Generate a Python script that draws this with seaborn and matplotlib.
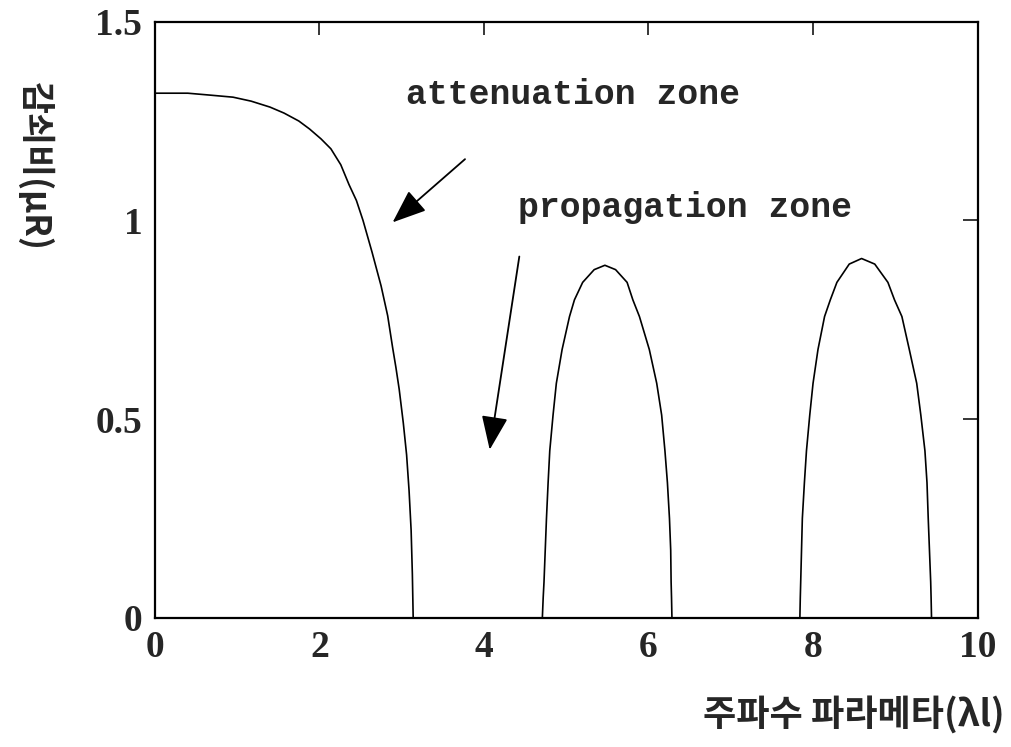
import numpy as np
import pandas as pd
import matplotlib
matplotlib.use("Agg")
import matplotlib.pyplot as plt
import seaborn as sns

# values
lobe1_x = [0, 0.4, 0.68, 0.95, 1.17, 1.40, 1.57, 1.75, 1.88, 2.02, 2.14, 2.26, 2.36, 2.45,
           2.53, 2.64, 2.75, 2.83, 2.89, 2.93, 2.97, 3.02, 3.06, 3.09, 3.115, 3.13, 3.14]
lobe1_y = [1.32, 1.32, 1.315, 1.31, 1.30, 1.285, 1.27, 1.25, 1.23, 1.205, 1.18, 1.14, 1.09, 1.05,
           1.00, 0.92, 0.835, 0.76, 0.68, 0.63, 0.575, 0.49, 0.41, 0.32, 0.22, 0.11, 0.0]

lobe2_x = [4.71, 4.72, 4.73, 4.745, 4.76, 4.78, 4.80, 4.84, 4.88, 4.95, 5.04, 5.10, 5.20, 5.34,
           5.47, 5.60, 5.74, 5.81, 5.89, 6.01, 6.10, 6.16, 6.20, 6.23, 6.255, 6.27, 6.275, 6.28, 6.285]
lobe2_y = [0.0, 0.05, 0.09, 0.17, 0.25, 0.34, 0.42, 0.51, 0.59, 0.675, 0.758, 0.80, 0.844, 0.876,
           0.887, 0.876, 0.844, 0.80, 0.758, 0.675, 0.59, 0.51, 0.42, 0.34, 0.25, 0.17, 0.09, 0.05, 0.0]

lobe3_x = [7.84, 7.845, 7.85, 7.86, 7.87, 7.895, 7.92, 7.96, 8.00, 8.06, 8.14, 8.21, 8.29, 8.44,
           8.59, 8.75, 8.91, 8.99, 9.08, 9.17, 9.26, 9.31, 9.36, 9.385, 9.40, 9.415, 9.43, 9.435, 9.44]
lobe3_y = [0.0, 0.05, 0.09, 0.17, 0.25, 0.34, 0.42, 0.51, 0.59, 0.675, 0.758, 0.80, 0.844, 0.89,
           0.904, 0.89, 0.844, 0.80, 0.758, 0.675, 0.59, 0.51, 0.42, 0.34, 0.25, 0.17, 0.09, 0.05, 0.0]

x_ticks = [0, 2, 4, 6, 8, 10]
y_ticks = [0, 0.5, 1, 1.5]
y_tick_labels = ["0", "0.5", "1", "1.5"]

xlabel = "주파수 파라메타(λl)"
ylabel = "감쇠비(μR)"

sns.set_style("white")
plt.rcParams["font.family"] = ["Liberation Serif", "Noto Sans CJK KR", "DejaVu Sans"]

fig = plt.figure(figsize=(10.12, 7.47), dpi=100)
ax = fig.add_axes([0.153, 0.173, 0.813, 0.798])

# draw each lobe separately so they are not joined
for xs, ys in [(lobe1_x, lobe1_y), (lobe2_x, lobe2_y), (lobe3_x, lobe3_y)]:
    sns.lineplot(x=xs, y=ys, ax=ax, color="black", linewidth=1.2,
                 sort=False, estimator=None)

ax.set_xlim(0, 10)
ax.set_ylim(0, 1.5)
ax.set_xticks(x_ticks)
ax.set_yticks(y_ticks)
ax.set_yticklabels(y_tick_labels)

for s in ax.spines.values():
    s.set_linewidth(1.6)
    s.set_color("black")

ax.tick_params(axis="x", direction="in", length=9, width=1.3, top=True, pad=9,
               labelsize=27)
ax.tick_params(axis="y", direction="in", length=11, width=1.3, right=True, pad=9,
               labelsize=27)
for lab in ax.get_xticklabels() + ax.get_yticklabels():
    lab.set_fontweight("bold")

# annotations
ax.text(5.08, 1.317, "attenuation zone", family="Liberation Mono", fontsize=25,
        fontweight="bold", ha="center", va="center")
ax.text(6.44, 1.033, "propagation zone", family="Liberation Mono", fontsize=25,
        fontweight="bold", ha="center", va="center")

arrow = dict(arrowstyle="-|>,head_length=1.4,head_width=0.55", color="black",
             lw=1.3, mutation_scale=15, shrinkA=0, shrinkB=0)
ax.annotate("", xy=(2.89, 0.995), xytext=(3.77, 1.154), arrowprops=arrow)
ax.annotate("", xy=(4.07, 0.423), xytext=(4.43, 0.909), arrowprops=arrow)

ax.set_xlabel(xlabel, family=["Noto Sans CJK KR", "DejaVu Sans"], fontsize=26,
              fontweight="bold")
ax.xaxis.set_label_coords(1.033, -0.163)
ax.xaxis.label.set_horizontalalignment("right")
ax.xaxis.label.set_verticalalignment("center")

ax.set_ylabel(ylabel, family=["Noto Sans CJK KR", "DejaVu Sans"], fontsize=25,
              fontweight="bold", rotation=-90)
ax.yaxis.set_label_coords(-0.146, 0.757)
ax.yaxis.label.set_verticalalignment("center")

fig.savefig("out.png", dpi=100)
